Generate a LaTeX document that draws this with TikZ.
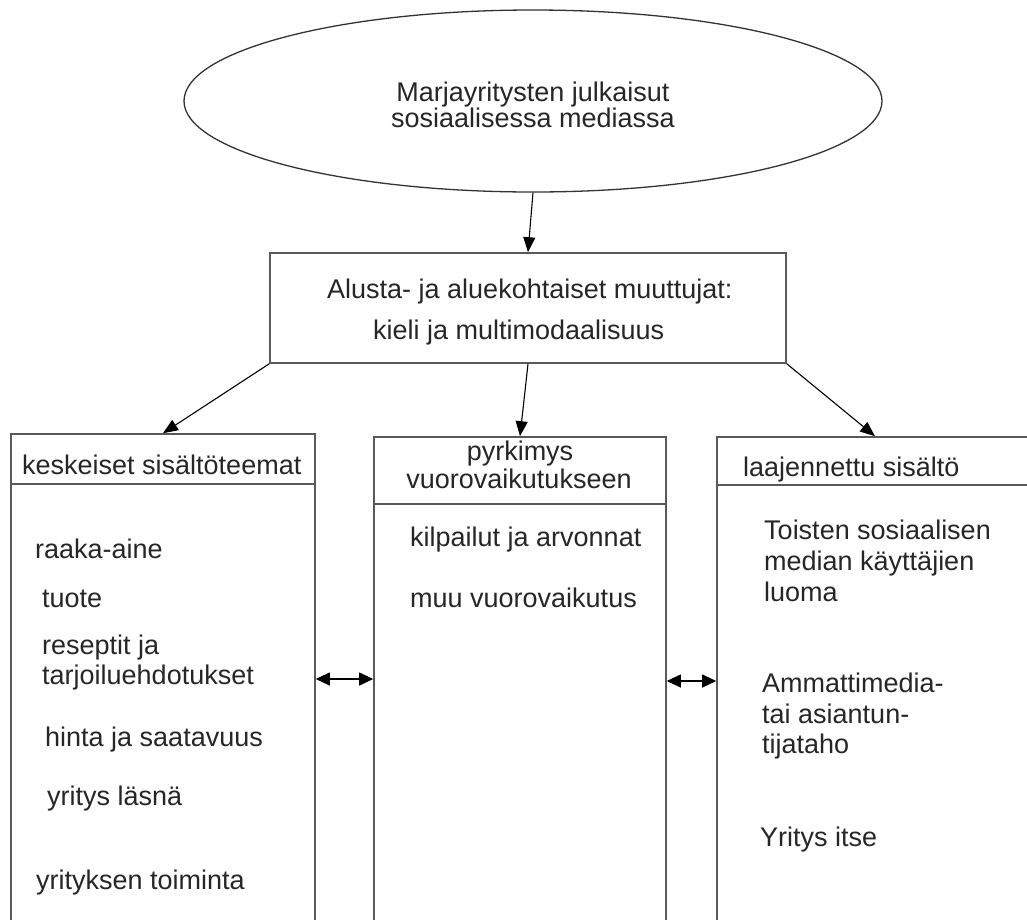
\documentclass[tikz,border=0pt]{standalone}
\usepackage{fontspec}
\setmainfont{Liberation Sans}
\usetikzlibrary{arrows.meta,shapes.geometric,calc}
\begin{document}
\begin{tikzpicture}[x=1pt,y=-1pt,
  every node/.style={font=\fontsize{27}{29}\selectfont, text=black!85},
  boxline/.style={draw=black!65, line width=1.6pt},
  colbox/.style={boxline, rectangle, inner sep=0pt},
  arr/.style={draw=black, line width=1.1pt, -{Triangle[length=15pt,width=12pt]}},
  darr/.style={draw=black, line width=1.1pt, {Triangle[length=14pt,width=13pt]}-{Triangle[length=14pt,width=13pt]}},
  item/.style={anchor=base west, inner sep=0pt, align=left},
]
\useasboundingbox (0,0) rectangle (1027,919);
\clip (0,0) rectangle (1027,919);
% top ellipse
\node[ellipse, draw=black!80, line width=1.3pt, minimum width=698pt, minimum height=182pt, inner sep=0pt] (ell) at (533,101) {};
\node[align=center, inner sep=0pt, font=\fontsize{27}{26}\selectfont] (ellt) at (533,105) {Marjayritysten julkaisut\\sosiaalisessa mediassa};
% middle box
\node[colbox, minimum width=516pt, minimum height=110pt] (mid) at (528,308) {};
\node[item] (m1) at (327,298) {Alusta- ja aluekohtaiset muuttujat:};
\node[item] (m2) at (373,339) {kieli ja multimodaalisuus};
% column boxes
\node[colbox, minimum width=304pt, minimum height=520pt] (lbox) at (163,694) {};
\node[colbox, minimum width=292pt, minimum height=520pt] (cbox) at (520,697) {};
\node[colbox, minimum width=330pt, minimum height=520pt] (rbox) at (882,697) {};
\coordinate (lh) at (0,484);
\coordinate (ch) at (0,504);
\coordinate (rh) at (0,485);
\draw[boxline] (lbox.west |- lh) -- (lbox.east |- lh);
\draw[boxline] (cbox.west |- ch) -- (cbox.east |- ch);
\draw[boxline] (rbox.west |- rh) -- (rbox.east |- rh);
% left column texts
\node[item] (l0) at (22,474) {keskeiset sisältöteemat};
\node[item] (l1) at (35,558) {raaka-aine};
\node[item] (l2) at (42,607) {tuote};
\node[item] (l3) at (42,654) {reseptit ja};
\node[item] (l4) at (42,684) {tarjoiluehdotukset};
\node[item] (l5) at (45,746) {hinta ja saatavuus};
\node[item] (l6) at (47,805) {yritys läsnä};
\node[item] (l7) at (36,889) {yrityksen toiminta};
% centre column texts
\node[anchor=base, inner sep=0pt] (c0a) at (520,460) {pyrkimys};
\node[anchor=base, inner sep=0pt] (c0b) at (519,488) {vuorovaikutukseen};
\node[item] (c1) at (410,546) {kilpailut ja arvonnat};
\node[item] (c2) at (410,607) {muu vuorovaikutus};
% right column texts
\node[item] (r0) at (743,476) {laajennettu sisältö};
\node[item] (r1) at (764,539) {Toisten sosiaalisen};
\node[item] (r2) at (764,570) {median käyttäjien};
\node[item] (r3) at (764,601) {luoma};
\node[item] (r4) at (762,692) {Ammattimedia-};
\node[item] (r5) at (762,723) {tai asiantun-};
\node[item] (r6) at (762,753) {tijataho};
\node[item] (r7) at (760,846) {Yritys itse};
% connectors
\draw[arr] (ell.south) -- (mid.north);
\draw[arr] (mid.south west) -- (lbox.north);
\draw[arr] (mid.south) -- (cbox.north);
\draw[arr] (mid.south east) -- ([xshift=-7pt]rbox.north);
\coordinate (d1) at (0,679);
\coordinate (d2) at (0,681);
\draw[darr] (lbox.east |- d1) -- (cbox.west |- d1);
\draw[darr] (cbox.east |- d2) -- (rbox.west |- d2);
\end{tikzpicture}
\end{document}
